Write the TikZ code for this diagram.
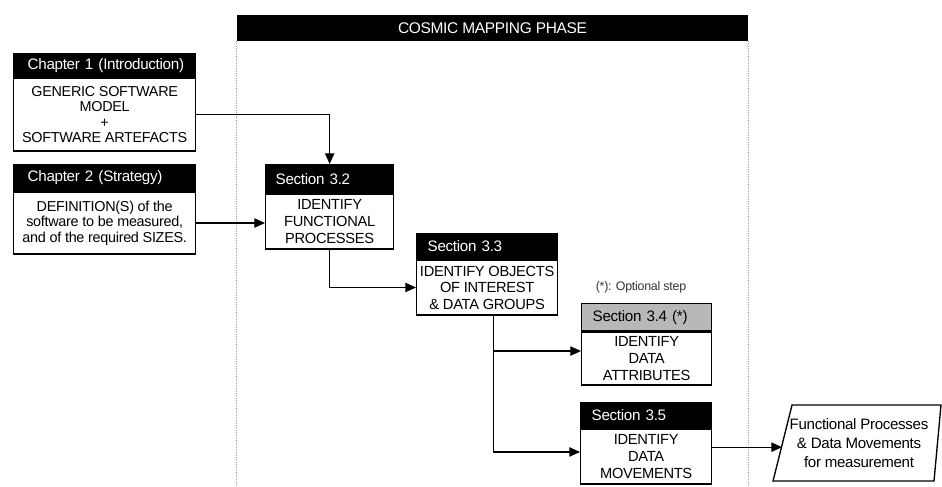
\documentclass[tikz,border=0pt]{standalone}
\usepackage{fontspec}
\setmainfont{Liberation Sans}[LetterSpace=-2]
\usetikzlibrary{arrows.meta,calc}
\begin{document}
\begin{tikzpicture}[x=0.75pt,y=-0.75pt,
  font=\fontsize{11}{12.4}\selectfont,
  box/.style={draw=black, line width=1pt},
  hdr/.style={box, fill=black, text=white, anchor=north west, inner ysep=0pt, align=left, font=\fontsize{11.4}{12}\selectfont},
  bodybox/.style={box, fill=white, anchor=north, align=center, inner sep=0pt},
  chapbody/.style={bodybox, font=\fontsize{10.8}{11.6}\selectfont},
  secbody/.style={bodybox, font=\fontsize{11}{12.4}\selectfont},
  arr/.style={line width=0.9pt, -{Triangle[length=8pt,width=7pt]}},
  guide/.style={densely dotted, black!40, line width=0.6pt}]
\useasboundingbox (0,0) rectangle (942,486);

% phase banner and guides
\node[fill=black, text=white, minimum width=383.25pt, minimum height=19.5pt, inner sep=0pt, font=\fontsize{11.6}{12}\selectfont] (phase) at (492.5,28) {COSMIC MAPPING PHASE};
\draw[guide] (phase.south west) -- (phase.south west |- 0,486);
\draw[guide] (phase.south east) -- (phase.south east |- 0,486);

% Chapter 1
\node[hdr, inner xsep=10.5pt, text width=115.5pt, minimum height=17.25pt] (c1h) at (13,53) {\mbox{Chapter 1 (Introduction)}};
\node[chapbody, minimum width=136.5pt, minimum height=54.75pt] (c1) at (c1h.south) {GENERIC SOFTWARE\\MODEL\\+\\SOFTWARE ARTEFACTS};

% Chapter 2
\node[hdr, inner xsep=10.5pt, text width=115.5pt, minimum height=19.5pt] (c2h) at (13,164) {\mbox{Chapter 2 (Strategy)}};
\node[chapbody, minimum width=136.5pt, minimum height=46.5pt] (c2) at (c2h.south) {DEFINITION(S) of the\\software to be measured,\\and of the required SIZES.};

% Section 3.2
\node[hdr, inner xsep=7.5pt, text width=81pt, minimum height=21pt] (s32h) at (265,164) {Section 3.2};
\node[secbody, minimum width=96pt, minimum height=41.25pt] (s32) at (s32h.south) {IDENTIFY\\FUNCTIONAL\\PROCESSES};

% Section 3.3
\node[hdr, inner xsep=8.25pt, text width=89.25pt, minimum height=18.75pt] (s33h) at (416,233) {Section 3.3};
\node[secbody, minimum width=105.75pt, minimum height=41.25pt] (s33) at (s33h.south) {IDENTIFY OBJECTS\\OF INTEREST\\\& DATA GROUPS};

% optional note
\node[font=\fontsize{9.3}{10}\selectfont, text=black!80] (note) at (641,287) {(*): Optional step};

% Section 3.4
\node[hdr, fill=black!28, text=black, inner xsep=8.25pt, text width=81pt, minimum height=20.25pt] (s34h) at (581,303) {\mbox{Section 3.4 (*)}};
\node[secbody, minimum width=97.5pt, minimum height=39.75pt] (s34) at (s34h.south) {IDENTIFY\\DATA\\ATTRIBUTES};

% Section 3.5
\node[hdr, inner xsep=8.25pt, text width=81.75pt, minimum height=18.75pt] (s35h) at (580,402) {Section 3.5};
\node[secbody, minimum width=98.25pt, minimum height=41.25pt] (s35) at (s35h.south) {IDENTIFY\\DATA\\MOVEMENTS};

% output parallelogram
\draw[box] (792,405) -- (941,405) -- (934,481) -- (773,481) -- cycle;
\node[align=center, font=\fontsize{11.3}{14}\selectfont] (out) at (859,443) {Functional Processes\\\& Data Movements\\for measurement};
\coordinate (outin) at (782,445);

% connectors
\draw[arr] (c1.east) -| (s32h.north);
\draw[arr] (c2.east) -- (c2.east -| s32.west);
\draw[arr] (s32.south) |- (s33.west);
\draw[arr] ([xshift=4.5pt]s33.south) |- ([yshift=5.6pt]s34.west);
\draw[arr] ([xshift=4.5pt]s33.south) |- ([yshift=3.4pt]s35.west);
\draw[arr] ([yshift=7pt]s35.east) coordinate (s35out) -- (s35out -| outin);
\end{tikzpicture}
\end{document}
